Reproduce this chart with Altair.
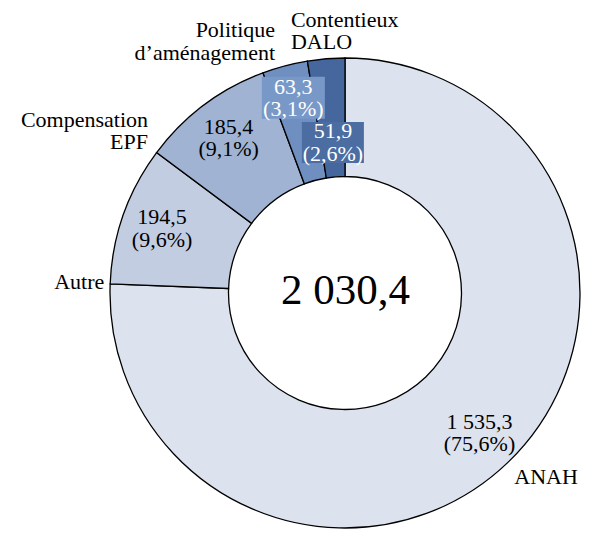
import math
import altair as alt
import pandas as pd

# ---- data ----
categories = ["ANAH", "Autre", "Compensation EPF", "Politique d'aménagement", "Contentieux DALO"]
values = [1535.3, 194.5, 185.4, 63.3, 51.9]
outer_labels = [["ANAH"], ["Autre"], ["Compensation", "EPF"], ["Politique", "d’aménagement"], ["Contentieux", "DALO"]]
colors = ["#dde3ee", "#c2cde1", "#a0b3d2", "#6f8fc1", "#45679d"]
box_colors = {"Politique d'aménagement": "#7898c8", "Contentieux DALO": "#4b6da2"}

FONT = "Liberation Serif"
FS = 22
LH = 22.5
ML = -11  # vertical correction for two-line labels
W, H = 578, 525
CX, CY = 337, 285
R_OUT, R_IN = 235, 116.5


def fr(v):
    return f"{v:,.1f}".replace(",", " ").replace(".", ",")


total = sum(values)
df = pd.DataFrame({"cat": categories, "value": values, "idx": list(range(len(values)))})
df["end"] = df["value"].cumsum()
df["start"] = df["end"] - df["value"]
df["mid"] = df["start"] + df["value"] / 2
df["vlab"] = [[fr(v), "(" + f"{100 * v / total:.1f}".replace(".", ",") + "%)"] for v in values]
df["olab"] = outer_labels

sc = alt.Scale(domain=[0, total], range=[0, 2 * math.pi])
base = alt.Chart(df)
cx, cy = alt.value(CX), alt.value(CY)

arcs = base.mark_arc(outerRadius=R_OUT, innerRadius=R_IN, stroke="black", strokeWidth=1.3).encode(
    theta=alt.Theta("start:Q", scale=sc),
    theta2=alt.Theta2("end:Q"),
    color=alt.Color("cat:N", scale=alt.Scale(domain=categories, range=colors), legend=None),
    x=cx, y=cy,
)

layers = [arcs]

# value labels inside the big slices
layers.append(
    base.transform_filter(alt.FieldOneOfPredicate(field="cat", oneOf=categories[:3]))
    .mark_text(radius=194, font=FONT, fontSize=FS, lineHeight=LH, baseline="middle", align="center",
               color="black", dy=ML)
    .encode(theta=alt.Theta("mid:Q", scale=sc), text=alt.Text("vlab:N"), x=cx, y=cy)
)

# boxed labels for the small slices
small = {"Politique d'aménagement": (202, 63, 42), "Contentieux DALO": (151, 62, 41)}
for cat, (r, bw, bh) in small.items():
    row = df[df["cat"] == cat].iloc[0]
    ang = 2 * math.pi * row["mid"] / total
    bx = CX + r * math.sin(ang)
    by = CY - r * math.cos(ang)
    sub = base.transform_filter(alt.FieldEqualPredicate(field="cat", equal=cat))
    layers.append(
        sub.mark_rect(color=box_colors[cat], opacity=1, fillOpacity=1).encode(
            x=alt.value(bx - bw / 2), x2=alt.value(bx + bw / 2),
            y=alt.value(by - bh / 2), y2=alt.value(by + bh / 2),
        )
    )
    layers.append(
        sub.mark_text(radius=r, font=FONT, fontSize=FS, lineHeight=LH, baseline="middle", align="center",
                      color="white", dy=ML)
        .encode(theta=alt.Theta("mid:Q", scale=sc), text=alt.Text("vlab:N"), x=cx, y=cy)
    )

# outer category labels
outer_cfg = {
    "ANAH": ("left", -4, 4),
    "Autre": ("right", -5, 72),
    "Compensation EPF": ("right", -47, 38 + ML),
    "Politique d'aménagement": ("right", -6, -10 + ML),
    "Contentieux DALO": ("left", -34, -13 + ML),
}
for cat, (al, ddx, ddy) in outer_cfg.items():
    layers.append(
        base.transform_filter(alt.FieldEqualPredicate(field="cat", equal=cat))
        .mark_text(radius=250, font=FONT, fontSize=FS, lineHeight=LH, baseline="middle", align=al,
                   dx=ddx, dy=ddy, color="black")
        .encode(theta=alt.Theta("mid:Q", scale=sc), text=alt.Text("olab:N"), x=cx, y=cy)
    )

# total in the centre
center = alt.Chart(pd.DataFrame({"t": [fr(total)]})).mark_text(
    font=FONT, fontSize=43, baseline="middle", align="center", color="black"
).encode(text="t:N", x=alt.value(CX + 0.5), y=alt.value(CY - 2))
layers.append(center)

chart = alt.layer(*layers).properties(
    width=W, height=H, autosize=alt.AutoSizeParams(type="none"), padding=0
).configure_view(stroke=None)

chart.save("out.html", embed_options={"renderer": "svg", "actions": False})
